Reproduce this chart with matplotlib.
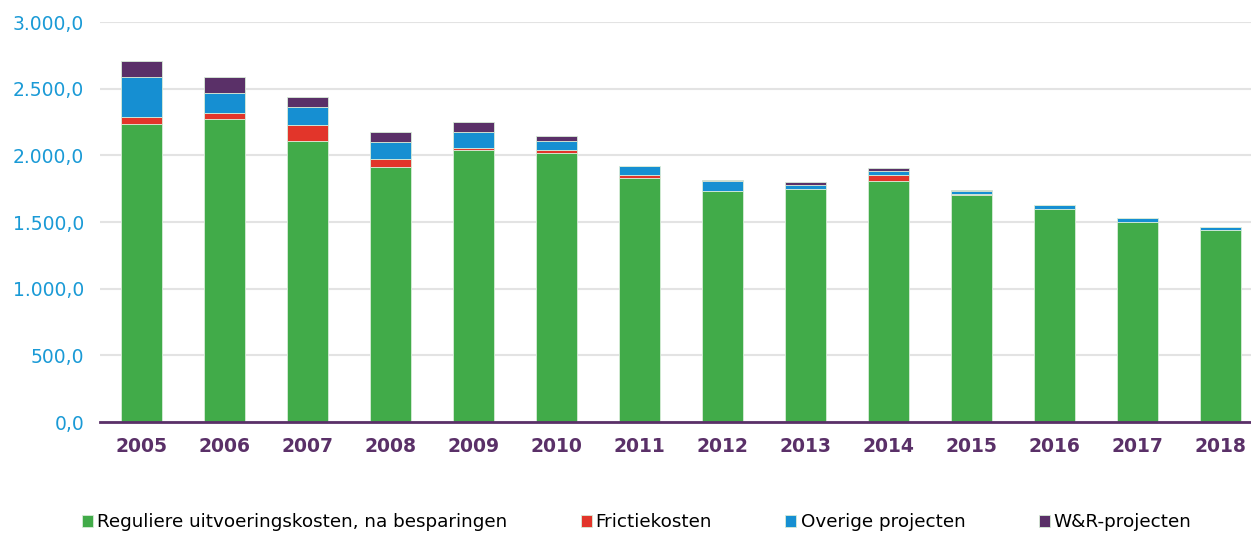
import matplotlib
matplotlib.use("Agg")
import matplotlib.pyplot as plt
import matplotlib.ticker as mticker
import numpy as np

# ── data ──
years = ["2005", "2006", "2007", "2008", "2009", "2010", "2011",
         "2012", "2013", "2014", "2015", "2016", "2017", "2018"]
regulier = [2238, 2270, 2107, 1913, 2040, 2017, 1833, 1732, 1745, 1807, 1700, 1597, 1502, 1437]
frictie = [47, 45, 123, 57, 12, 23, 21, 0, 0, 43, 7, 0, 0, 0]
overig = [305, 150, 130, 132, 120, 70, 66, 78, 32, 30, 28, 28, 25, 28]
wr = [117, 125, 77, 73, 80, 32, 2, 4, 20, 25, 5, 0, 0, 0]

series = [
    ("Reguliere uitvoeringskosten, na besparingen", regulier, "#41ab49"),
    ("Frictiekosten", frictie, "#e2352a"),
    ("Overige projecten", overig, "#168fd2"),
    ("W&R-projecten", wr, "#5a3068"),
]

fig = plt.figure(figsize=(12.51, 5.35), dpi=100)
ax = fig.add_axes([100 / 1251, 113 / 535, 1151 / 1251, 400 / 535])

xs = np.arange(len(years))
bottom = np.zeros(len(years))
handles = []
for label, vals, col in series:
    b = ax.bar(xs, vals, width=0.5, bottom=bottom, color=col, label=label,
               edgecolor="#d8ecd8", linewidth=0.6, zorder=3)
    handles.append(b)
    bottom += np.array(vals)

ax.set_xlim(-0.5, 13.37)
ax.set_ylim(0, 3000)
ax.yaxis.set_major_locator(mticker.MultipleLocator(500))


def nl_fmt(v, pos):
    s = f"{v:,.1f}"
    return s.replace(",", "X").replace(".", ",").replace("X", ".")


ax.yaxis.set_major_formatter(mticker.FuncFormatter(nl_fmt))
ax.grid(axis="y", color="#e3e3e3", linewidth=1.5, zorder=0)
ax.set_axisbelow(True)

for s in ("top", "right", "left"):
    ax.spines[s].set_visible(False)
ax.spines["bottom"].set_color("#5a3068")
ax.spines["bottom"].set_linewidth(2)
ax.spines["bottom"].set_zorder(4)

ax.set_xticks(xs)
ax.set_xticklabels(years, fontsize=13.5, fontweight="bold", color="#5a3068")
ax.tick_params(axis="x", length=0, pad=11)
ax.tick_params(axis="y", length=0, pad=11.5, labelsize=13.5, labelcolor="#1a9ad6")

fig.legend(handles=handles, loc="center", bbox_to_anchor=(0.509, 0.024), ncol=4,
           frameon=False, fontsize=13.2, handlelength=0.6, handleheight=0.6,
           handletextpad=0.22, columnspacing=4.0, borderaxespad=0)

fig.savefig("out.png", dpi=100)
